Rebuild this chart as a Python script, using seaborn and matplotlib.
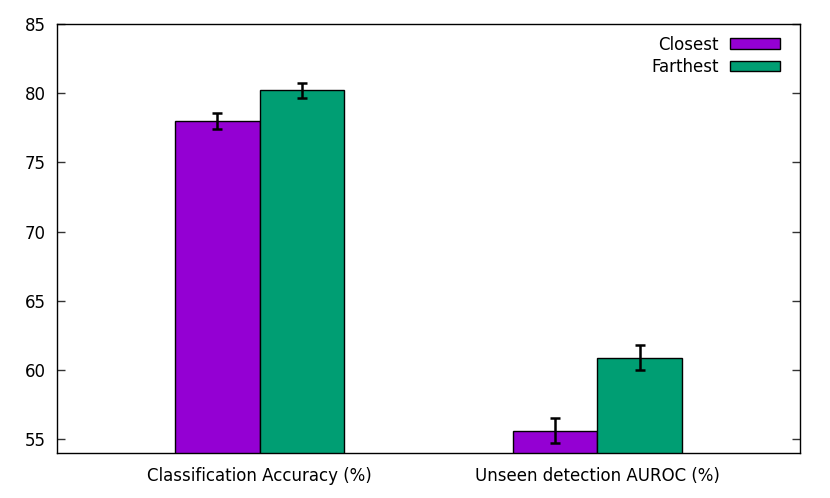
import seaborn as sns
import numpy as np
import pandas as pd
import matplotlib.pyplot as plt

sns.set_style("white")
plt.rcParams['font.family'] = ['DejaVu Sans']
plt.rcParams['text.color'] = 'black'
plt.rcParams['xtick.color'] = 'black'
plt.rcParams['ytick.color'] = 'black'

# data
categories = ["Classification Accuracy (%)", "Unseen detection AUROC (%)"]
series = ["Closest", "Farthest"]
closest = [78.0, 55.6]
farthest = [80.2, 60.9]
closest_err = [0.6, 0.9]
farthest_err = [0.55, 0.9]
colors = ["#9400D3", "#009E73"]

df = pd.DataFrame({
    "metric": categories * 2,
    "method": [series[0]] * 2 + [series[1]] * 2,
    "value": closest + farthest,
    "err": closest_err + farthest_err,
})

fig, ax = plt.subplots(figsize=(8.3, 4.98), dpi=100)
fig.subplots_adjust(left=57/830, right=800/830, top=1-24/498, bottom=1-453/498)

sns.barplot(data=df, x="metric", y="value", hue="method", palette=colors,
            width=0.5, errorbar=None, edgecolor="black", linewidth=1,
            saturation=1, ax=ax)

# error bars on bar centres
for cont, errs in zip(ax.containers, [closest_err, farthest_err]):
    for bar, e in zip(cont, errs):
        xc = bar.get_x() + bar.get_width() / 2
        ax.errorbar(xc, bar.get_height(), yerr=e, color="black",
                    elinewidth=1.8, capsize=3.5, capthick=1.8, zorder=5)

ax.set_ylim(54, 85)
ax.set_xlim(-0.6, 1.6)
ax.set_yticks([55, 60, 65, 70, 75, 80, 85])
ax.set_xlabel("")
ax.set_ylabel("")
ax.tick_params(axis="y", direction="in", length=6, width=1, right=True,
               left=True, labelsize=12, pad=8, color="#333333")
ax.tick_params(axis="x", length=0, labelsize=12, pad=10)
for s in ax.spines.values():
    s.set_visible(True)
    s.set_color("black")
    s.set_linewidth(1)

leg = ax.legend(loc="upper right", frameon=False, markerfirst=False,
                fontsize=12, handlelength=3.0, handleheight=0.6,
                handletextpad=0.7, labelspacing=0.25,
                bbox_to_anchor=(0.9935, 1.008))
for t in leg.get_texts():
    t.set_ha("right")

plt.savefig("out.png", dpi=100)
